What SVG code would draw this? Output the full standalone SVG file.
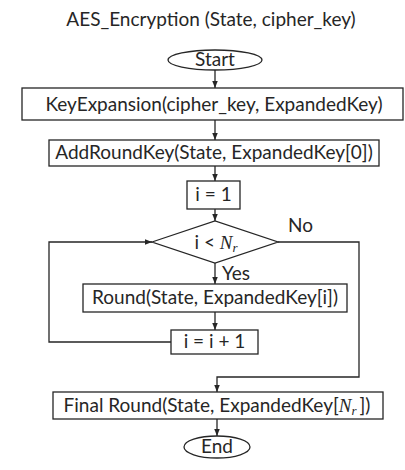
<svg xmlns="http://www.w3.org/2000/svg" width="405" height="470" viewBox="0 0 405 470">
<style>
  .shape { fill: #ffffff; stroke: #262626; stroke-width: 1.3; }
  .conn { fill: none; stroke: #262626; stroke-width: 1.3; }
  .t { font-family: Lato, "Liberation Sans", Arial, sans-serif; font-size: 19px; fill: #262626; }
  .c { text-anchor: middle; }
  .m { font-family: "Liberation Serif", "Times New Roman", serif; font-style: italic; }
</style>
<defs>
  <marker id="arrow" markerUnits="userSpaceOnUse" markerWidth="8" markerHeight="6" refX="7" refY="2.75" orient="auto">
    <path d="M0,0 L7,2.75 L0,5.5 z" fill="#262626"/>
  </marker>
</defs>
<rect width="405" height="470" fill="#ffffff"/>

<g id="title">
  <text class="t c" x="211" y="26">AES_Encryption (State, cipher_key)</text>
</g>

<g id="connectors">
  <line class="conn" x1="215" y1="70" x2="215" y2="88" marker-end="url(#arrow)"/>
  <line class="conn" x1="215" y1="120" x2="215" y2="140" marker-end="url(#arrow)"/>
  <line class="conn" x1="215" y1="166" x2="215" y2="181" marker-end="url(#arrow)"/>
  <line class="conn" x1="215" y1="209" x2="215" y2="221" marker-end="url(#arrow)"/>
  <line class="conn" x1="215" y1="263" x2="215" y2="284" marker-end="url(#arrow)"/>
  <line class="conn" x1="215" y1="312" x2="215" y2="330" marker-end="url(#arrow)"/>
  <polyline class="conn" points="171,342 49,342 49,242 152,242" marker-end="url(#arrow)"/>
  <polyline class="conn" points="278,242 359,242 359,377 217,377 217,392" marker-end="url(#arrow)"/>
  <line class="conn" x1="217" y1="419" x2="217" y2="436" marker-end="url(#arrow)"/>
  <text class="t" x="288" y="232">No</text>
  <text class="t" x="222" y="280">Yes</text>
</g>

<g id="start">
  <ellipse class="shape" cx="215" cy="60" rx="47" ry="10"/>
  <text class="t c" x="215" y="66.4">Start</text>
</g>

<g id="key-expansion">
  <rect class="shape" x="22" y="88" width="381" height="32"/>
  <text class="t c" x="214" y="110.5">KeyExpansion(cipher_key, ExpandedKey)</text>
</g>

<g id="add-round-key">
  <rect class="shape" x="49" y="140" width="330" height="26"/>
  <text class="t c" x="214" y="159.4">AddRoundKey(State, ExpandedKey[0])</text>
</g>

<g id="init-i">
  <rect class="shape" x="187" y="181" width="53" height="28"/>
  <text class="t c" x="213.5" y="201.4">i = 1</text>
</g>

<g id="condition">
  <polygon class="shape" points="152,242 215,221 278,242 215,263"/>
  <text class="t c" x="216" y="248.5">i &lt; <tspan class="m" font-size="19">N</tspan><tspan class="m" font-size="13" dy="3">r</tspan></text>
</g>

<g id="round">
  <rect class="shape" x="83" y="284" width="264" height="28"/>
  <text class="t c" x="215" y="304.4">Round(State, ExpandedKey[i])</text>
</g>

<g id="increment">
  <rect class="shape" x="171" y="330" width="87" height="24"/>
  <text class="t c" x="214.5" y="348.4">i = i + 1</text>
</g>

<g id="final-round">
  <rect class="shape" x="53" y="392" width="330" height="27"/>
  <text class="t c" x="217" y="411.9">Final Round(State, ExpandedKey[<tspan class="m" font-size="19">N</tspan><tspan class="m" font-size="13" dy="3">r</tspan><tspan dy="-3" dx="3">])</tspan></text>
</g>

<g id="end">
  <ellipse class="shape" cx="217" cy="447" rx="33" ry="11"/>
  <text class="t c" x="217" y="453.4">End</text>
</g>
</svg>
